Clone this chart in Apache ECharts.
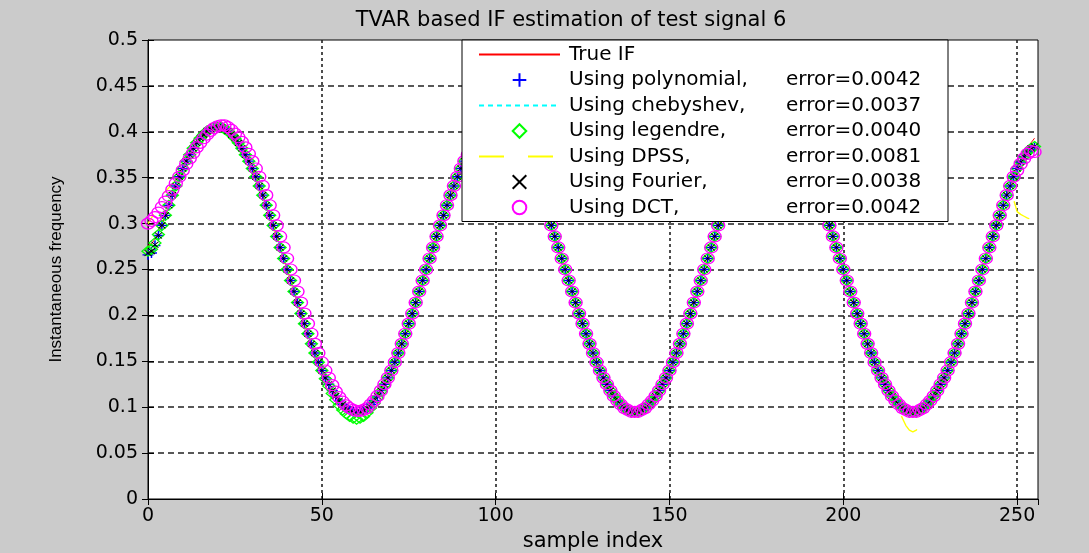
<!DOCTYPE html>
<html><head><meta charset="utf-8">
<script src="https://cdn.jsdelivr.net/npm/echarts@6/dist/echarts.min.js"></script>
<style>html,body{margin:0;padding:0;background:#cbcbcb}#c{width:1089px;height:553px}</style>
</head><body><div id="c"></div><script>
const chartTitle = 'TVAR based IF estimation of test signal 6';
const xAxisName = 'sample index';
const yAxisName = 'Instantaneous frequency';
const seriesLabels = ['True IF', 'Using polynomial,', 'Using chebyshev,', 'Using legendre,', 'Using DPSS,', 'Using Fourier,', 'Using DCT,'];
const seriesErrors = ['', 'error=0.0042', 'error=0.0037', 'error=0.0040', 'error=0.0081', 'error=0.0038', 'error=0.0042'];

const trueIF = [
0.276,0.278,0.283,0.290,0.298,0.309,0.320,0.331,0.341,0.351,
0.360,0.368,0.375,0.382,0.388,0.393,0.397,0.401,0.403,0.405,
0.405,0.405,0.403,0.401,0.397,0.393,0.388,0.382,0.375,0.368,
0.360,0.351,0.341,0.331,0.320,0.309,0.298,0.286,0.274,0.262,
0.250,0.238,0.226,0.214,0.202,0.191,0.180,0.169,0.159,0.149,
0.140,0.132,0.125,0.118,0.112,0.107,0.103,0.099,0.097,0.095,
0.095,0.095,0.097,0.099,0.103,0.107,0.112,0.118,0.125,0.132,
0.140,0.149,0.159,0.169,0.180,0.191,0.202,0.214,0.226,0.238,
0.250,0.262,0.274,0.286,0.298,0.309,0.320,0.331,0.341,0.351,
0.360,0.368,0.375,0.382,0.388,0.393,0.397,0.401,0.403,0.405,
0.405,0.405,0.403,0.401,0.397,0.393,0.388,0.382,0.375,0.368,
0.360,0.351,0.341,0.331,0.320,0.309,0.298,0.286,0.274,0.262,
0.250,0.238,0.226,0.214,0.202,0.191,0.180,0.169,0.159,0.149,
0.140,0.132,0.125,0.118,0.112,0.107,0.103,0.099,0.097,0.095,
0.095,0.095,0.097,0.099,0.103,0.107,0.112,0.118,0.125,0.132,
0.140,0.149,0.159,0.169,0.180,0.191,0.202,0.214,0.226,0.238,
0.250,0.262,0.274,0.286,0.298,0.309,0.320,0.331,0.341,0.351,
0.360,0.368,0.375,0.382,0.388,0.393,0.397,0.401,0.403,0.405,
0.405,0.405,0.403,0.401,0.397,0.393,0.388,0.382,0.375,0.368,
0.360,0.351,0.341,0.331,0.320,0.309,0.298,0.286,0.274,0.262,
0.250,0.238,0.226,0.214,0.202,0.191,0.180,0.169,0.159,0.149,
0.140,0.132,0.125,0.118,0.112,0.107,0.103,0.099,0.097,0.095,
0.095,0.095,0.097,0.099,0.103,0.107,0.112,0.118,0.125,0.132,
0.140,0.149,0.159,0.169,0.180,0.191,0.202,0.214,0.226,0.238,
0.250,0.262,0.274,0.286,0.298,0.309,0.320,0.331,0.341,0.351,
0.360,0.368,0.375,0.382,0.388,0.393];

const polynomialEst = [
0.266,0.268,0.276,0.287,0.298,0.309,0.320,0.331,0.341,0.351,
0.360,0.368,0.375,0.382,0.388,0.393,0.397,0.401,0.403,0.405,
0.405,0.405,0.403,0.401,0.397,0.393,0.388,0.382,0.375,0.368,
0.360,0.351,0.341,0.331,0.320,0.309,0.298,0.286,0.274,0.262,
0.250,0.238,0.226,0.214,0.202,0.191,0.180,0.169,0.159,0.149,
0.140,0.132,0.125,0.118,0.112,0.107,0.103,0.099,0.097,0.095,
0.095,0.095,0.097,0.099,0.103,0.107,0.112,0.118,0.125,0.132,
0.140,0.149,0.159,0.169,0.180,0.191,0.202,0.214,0.226,0.238,
0.250,0.262,0.274,0.286,0.298,0.309,0.320,0.331,0.341,0.351,
0.360,0.368,0.375,0.382,0.388,0.393,0.397,0.401,0.403,0.405,
0.405,0.405,0.403,0.401,0.397,0.393,0.388,0.382,0.375,0.368,
0.360,0.351,0.341,0.331,0.320,0.309,0.298,0.286,0.274,0.262,
0.250,0.238,0.226,0.214,0.202,0.191,0.180,0.169,0.159,0.149,
0.140,0.132,0.125,0.118,0.112,0.107,0.103,0.099,0.097,0.095,
0.095,0.095,0.097,0.099,0.103,0.107,0.112,0.118,0.125,0.132,
0.140,0.149,0.159,0.169,0.180,0.191,0.202,0.214,0.226,0.238,
0.250,0.262,0.274,0.286,0.298,0.309,0.320,0.331,0.341,0.351,
0.360,0.368,0.375,0.382,0.388,0.393,0.397,0.401,0.403,0.405,
0.405,0.405,0.403,0.401,0.397,0.393,0.388,0.382,0.375,0.368,
0.360,0.351,0.341,0.331,0.320,0.309,0.298,0.286,0.274,0.262,
0.250,0.238,0.226,0.214,0.202,0.191,0.180,0.169,0.159,0.149,
0.140,0.132,0.125,0.118,0.112,0.107,0.103,0.099,0.097,0.095,
0.095,0.095,0.097,0.099,0.103,0.107,0.112,0.118,0.125,0.132,
0.140,0.149,0.159,0.169,0.180,0.191,0.202,0.214,0.226,0.238,
0.250,0.262,0.274,0.286,0.298,0.309,0.320,0.331,0.341,0.351,
0.360,0.367,0.373,0.378,0.381,0.383];

const chebyshevEst = [
0.272,0.274,0.280,0.289,0.299,0.309,0.320,0.331,0.341,0.351,
0.360,0.368,0.375,0.382,0.388,0.393,0.397,0.401,0.403,0.405,
0.405,0.405,0.403,0.401,0.397,0.393,0.388,0.382,0.375,0.368,
0.360,0.351,0.341,0.331,0.320,0.309,0.298,0.286,0.274,0.262,
0.250,0.238,0.226,0.214,0.202,0.191,0.180,0.169,0.159,0.149,
0.140,0.132,0.125,0.118,0.112,0.107,0.103,0.099,0.097,0.095,
0.095,0.095,0.097,0.099,0.103,0.107,0.112,0.118,0.125,0.132,
0.140,0.149,0.159,0.169,0.180,0.191,0.202,0.214,0.226,0.238,
0.250,0.262,0.274,0.286,0.298,0.309,0.320,0.331,0.341,0.351,
0.360,0.368,0.375,0.382,0.388,0.393,0.397,0.401,0.403,0.405,
0.405,0.405,0.403,0.401,0.397,0.393,0.388,0.382,0.375,0.368,
0.360,0.351,0.341,0.331,0.320,0.309,0.298,0.286,0.274,0.262,
0.250,0.238,0.226,0.214,0.202,0.191,0.180,0.169,0.159,0.149,
0.140,0.132,0.125,0.118,0.112,0.107,0.103,0.099,0.097,0.095,
0.095,0.095,0.097,0.099,0.103,0.107,0.112,0.118,0.125,0.132,
0.140,0.149,0.159,0.169,0.180,0.191,0.202,0.214,0.226,0.238,
0.250,0.262,0.274,0.286,0.298,0.309,0.320,0.331,0.341,0.351,
0.360,0.368,0.375,0.382,0.388,0.393,0.397,0.401,0.403,0.405,
0.405,0.405,0.403,0.401,0.397,0.393,0.388,0.382,0.375,0.368,
0.360,0.351,0.341,0.331,0.320,0.309,0.298,0.286,0.274,0.262,
0.250,0.238,0.226,0.214,0.202,0.191,0.180,0.169,0.159,0.149,
0.140,0.132,0.125,0.118,0.112,0.107,0.103,0.099,0.097,0.095,
0.095,0.095,0.097,0.099,0.103,0.107,0.112,0.118,0.125,0.132,
0.140,0.149,0.159,0.169,0.180,0.191,0.202,0.214,0.226,0.238,
0.250,0.262,0.274,0.286,0.298,0.309,0.320,0.331,0.341,0.351,
0.360,0.368,0.374,0.379,0.383,0.385];

const legendreEst = [
0.270,0.272,0.279,0.288,0.298,0.309,0.320,0.331,0.341,0.351,
0.360,0.368,0.375,0.382,0.388,0.393,0.397,0.401,0.403,0.405,
0.405,0.405,0.403,0.401,0.397,0.393,0.388,0.382,0.375,0.368,
0.360,0.351,0.341,0.331,0.320,0.309,0.298,0.286,0.274,0.262,
0.250,0.238,0.226,0.214,0.202,0.191,0.180,0.169,0.159,0.149,
0.140,0.131,0.123,0.115,0.108,0.102,0.097,0.093,0.090,0.088,
0.087,0.088,0.090,0.094,0.099,0.104,0.110,0.117,0.124,0.132,
0.140,0.149,0.159,0.169,0.180,0.191,0.202,0.214,0.226,0.238,
0.250,0.262,0.274,0.286,0.298,0.309,0.320,0.331,0.341,0.351,
0.360,0.368,0.375,0.382,0.388,0.393,0.397,0.401,0.403,0.405,
0.405,0.405,0.403,0.401,0.397,0.393,0.388,0.382,0.375,0.368,
0.360,0.351,0.341,0.331,0.320,0.309,0.298,0.286,0.274,0.262,
0.250,0.238,0.226,0.214,0.202,0.191,0.180,0.169,0.159,0.149,
0.140,0.132,0.125,0.118,0.112,0.107,0.103,0.099,0.097,0.095,
0.095,0.095,0.097,0.099,0.103,0.107,0.112,0.118,0.125,0.132,
0.140,0.149,0.159,0.169,0.180,0.191,0.202,0.214,0.226,0.238,
0.250,0.262,0.274,0.286,0.298,0.309,0.320,0.331,0.341,0.351,
0.360,0.368,0.375,0.382,0.388,0.393,0.397,0.401,0.403,0.405,
0.405,0.405,0.403,0.401,0.397,0.393,0.388,0.382,0.375,0.368,
0.360,0.351,0.341,0.331,0.320,0.309,0.298,0.286,0.274,0.262,
0.250,0.238,0.226,0.214,0.202,0.191,0.180,0.169,0.159,0.149,
0.140,0.132,0.125,0.118,0.112,0.107,0.103,0.099,0.097,0.095,
0.095,0.095,0.097,0.099,0.103,0.107,0.112,0.118,0.125,0.132,
0.140,0.149,0.159,0.169,0.180,0.191,0.202,0.214,0.226,0.238,
0.250,0.262,0.274,0.286,0.298,0.309,0.320,0.331,0.341,0.351,
0.360,0.367,0.373,0.378,0.382,0.384];

const dpssEst = [
0.300,0.306,0.314,0.322,0.330,0.335,0.339,0.343,0.347,0.353,
0.360,0.368,0.375,0.382,0.388,0.393,0.397,0.401,0.403,0.405,
0.405,0.405,0.403,0.401,0.397,0.393,0.388,0.382,0.375,0.368,
0.360,0.351,0.341,0.331,0.320,0.309,0.298,0.286,0.274,0.262,
0.250,0.238,0.226,0.214,0.202,0.191,0.180,0.169,0.159,0.149,
0.140,0.132,0.125,0.118,0.112,0.107,0.103,0.099,0.097,0.095,
0.095,0.095,0.097,0.099,0.103,0.107,0.112,0.118,0.125,0.132,
0.140,0.149,0.159,0.169,0.180,0.191,0.202,0.214,0.226,0.238,
0.250,0.262,0.274,0.286,0.298,0.309,0.320,0.331,0.341,0.351,
0.360,0.368,0.375,0.382,0.388,0.393,0.397,0.401,0.403,0.405,
0.405,0.405,0.403,0.401,0.397,0.393,0.388,0.382,0.375,0.368,
0.360,0.351,0.341,0.331,0.320,0.309,0.298,0.286,0.274,0.262,
0.250,0.238,0.226,0.214,0.202,0.191,0.180,0.169,0.159,0.149,
0.140,0.132,0.125,0.118,0.112,0.107,0.103,0.099,0.097,0.095,
0.095,0.095,0.097,0.099,0.103,0.107,0.112,0.118,0.125,0.132,
0.140,0.149,0.159,0.169,0.180,0.191,0.202,0.214,0.226,0.238,
0.250,0.262,0.274,0.286,0.298,0.309,0.320,0.331,0.341,0.351,
0.360,0.368,0.375,0.382,0.388,0.393,0.397,0.401,0.403,0.405,
0.405,0.405,0.403,0.401,0.397,0.393,0.388,0.382,0.375,0.368,
0.360,0.351,0.341,0.331,0.320,0.309,0.298,0.286,0.274,0.262,
0.250,0.238,0.226,0.214,0.202,0.191,0.180,0.169,0.159,0.149,
0.140,0.132,0.125,0.118,0.110,0.104,0.096,0.088,0.080,0.075,
0.073,0.075,0.080,0.086,0.091,0.103,0.110,0.118,0.125,0.132,
0.140,0.149,0.159,0.169,0.180,0.191,0.202,0.214,0.226,0.238,
0.250,0.262,0.274,0.286,0.298,0.309,0.320,0.331,0.336,0.326,
0.313,0.310,0.308,0.306,0.305,0.303];

const fourierEst = [
0.268,0.270,0.277,0.287,0.298,0.309,0.320,0.331,0.341,0.351,
0.360,0.368,0.375,0.382,0.388,0.393,0.397,0.401,0.403,0.405,
0.405,0.405,0.403,0.401,0.397,0.393,0.388,0.382,0.375,0.368,
0.360,0.351,0.341,0.331,0.320,0.309,0.298,0.286,0.274,0.262,
0.250,0.238,0.226,0.214,0.202,0.191,0.180,0.169,0.159,0.149,
0.140,0.132,0.125,0.118,0.112,0.107,0.103,0.099,0.097,0.095,
0.095,0.095,0.097,0.099,0.103,0.107,0.112,0.118,0.125,0.132,
0.140,0.149,0.159,0.169,0.180,0.191,0.202,0.214,0.226,0.238,
0.250,0.262,0.274,0.286,0.298,0.309,0.320,0.331,0.341,0.351,
0.360,0.368,0.375,0.382,0.388,0.393,0.397,0.401,0.403,0.405,
0.405,0.405,0.403,0.401,0.397,0.393,0.388,0.382,0.375,0.368,
0.360,0.351,0.341,0.331,0.320,0.309,0.298,0.286,0.274,0.262,
0.250,0.238,0.226,0.214,0.202,0.191,0.180,0.169,0.159,0.149,
0.140,0.132,0.125,0.118,0.112,0.107,0.103,0.099,0.097,0.095,
0.095,0.095,0.097,0.099,0.103,0.107,0.112,0.118,0.125,0.132,
0.140,0.149,0.159,0.169,0.180,0.191,0.202,0.214,0.226,0.238,
0.250,0.262,0.274,0.286,0.298,0.309,0.320,0.331,0.341,0.351,
0.360,0.368,0.375,0.382,0.388,0.393,0.397,0.401,0.403,0.405,
0.405,0.405,0.403,0.401,0.397,0.393,0.388,0.382,0.375,0.368,
0.360,0.351,0.341,0.331,0.320,0.309,0.298,0.286,0.274,0.262,
0.250,0.238,0.226,0.214,0.202,0.191,0.180,0.169,0.159,0.149,
0.140,0.132,0.125,0.118,0.112,0.107,0.103,0.099,0.097,0.095,
0.095,0.095,0.097,0.099,0.103,0.107,0.112,0.118,0.125,0.132,
0.140,0.149,0.159,0.169,0.180,0.191,0.202,0.214,0.226,0.238,
0.250,0.262,0.274,0.286,0.298,0.309,0.320,0.331,0.341,0.351,
0.360,0.367,0.373,0.378,0.382,0.384];

const dctEst = [
0.300,0.303,0.307,0.312,0.318,0.324,0.330,0.337,0.344,0.351,
0.358,0.365,0.371,0.377,0.383,0.388,0.393,0.397,0.401,0.404,
0.406,0.407,0.407,0.405,0.402,0.398,0.394,0.389,0.383,0.376,
0.368,0.360,0.351,0.341,0.331,0.320,0.309,0.298,0.286,0.274,
0.262,0.250,0.238,0.226,0.214,0.202,0.191,0.180,0.169,0.159,
0.149,0.140,0.132,0.124,0.117,0.111,0.106,0.102,0.099,0.097,
0.096,0.096,0.097,0.099,0.103,0.107,0.112,0.118,0.125,0.132,
0.140,0.149,0.159,0.169,0.180,0.191,0.202,0.214,0.226,0.238,
0.250,0.262,0.274,0.286,0.298,0.309,0.320,0.331,0.341,0.351,
0.360,0.368,0.375,0.382,0.388,0.393,0.397,0.401,0.403,0.405,
0.405,0.405,0.403,0.401,0.397,0.393,0.388,0.382,0.375,0.368,
0.360,0.351,0.341,0.331,0.320,0.309,0.298,0.286,0.274,0.262,
0.250,0.238,0.226,0.214,0.202,0.191,0.180,0.169,0.159,0.149,
0.140,0.132,0.125,0.118,0.112,0.107,0.103,0.099,0.097,0.095,
0.095,0.095,0.097,0.099,0.103,0.107,0.112,0.118,0.125,0.132,
0.140,0.149,0.159,0.169,0.180,0.191,0.202,0.214,0.226,0.238,
0.250,0.262,0.274,0.286,0.298,0.309,0.320,0.331,0.341,0.351,
0.360,0.368,0.375,0.382,0.388,0.393,0.397,0.401,0.403,0.405,
0.405,0.405,0.403,0.401,0.397,0.393,0.388,0.382,0.375,0.368,
0.360,0.351,0.341,0.331,0.320,0.309,0.298,0.286,0.274,0.262,
0.250,0.238,0.226,0.214,0.202,0.191,0.180,0.169,0.159,0.149,
0.140,0.132,0.125,0.118,0.112,0.107,0.103,0.099,0.097,0.095,
0.095,0.095,0.097,0.099,0.103,0.107,0.112,0.118,0.125,0.132,
0.140,0.149,0.159,0.169,0.180,0.191,0.202,0.214,0.226,0.238,
0.250,0.262,0.274,0.286,0.298,0.309,0.320,0.331,0.341,0.351,
0.358,0.365,0.371,0.376,0.379,0.378];

const FONT = 'DejaVu Sans';
const fullName = i => seriesErrors[i] ? seriesLabels[i] + ' ' + seriesErrors[i] : seriesLabels[i];
const pts = arr => arr.map((v, i) => [i, v]);

const PLUS = 'path://M5,0L5,10M0,5L10,5';
const CROSS = 'path://M0,0L10,10M0,10L10,0';
const RING = 'path://M0,5A5,5,0,1,1,10,5A5,5,0,1,1,0,5Z';

const common = {type: 'line', showSymbol: true, showAllSymbol: true, silent: true,
  emphasis: {disabled: true}, animation: false, clip: true};

const series = [
  Object.assign({}, common, {name: fullName(0), data: pts(trueIF), symbol: 'none',
    lineStyle: {color: '#ff0000', width: 1}, itemStyle: {color: '#ff0000'}}),
  Object.assign({}, common, {name: fullName(1), data: pts(polynomialEst), symbol: PLUS, symbolSize: [11, 10],
    lineStyle: {color: '#0000ff', opacity: 0}, itemStyle: {color: 'none', borderColor: '#0000ff', borderWidth: 1.4}}),
  Object.assign({}, common, {name: fullName(2), data: pts(chebyshevEst), symbol: 'none',
    lineStyle: {color: '#00ffff', width: 1, type: [5, 4]}, itemStyle: {color: '#00ffff'}}),
  Object.assign({}, common, {name: fullName(3), data: pts(legendreEst), symbol: 'diamond', symbolSize: [12, 10],
    lineStyle: {color: '#00ff00', opacity: 0}, itemStyle: {color: 'none', borderColor: '#00ff00', borderWidth: 1.3}}),
  Object.assign({}, common, {name: fullName(4), data: pts(dpssEst), symbol: 'none',
    lineStyle: {color: '#ffff00', width: 1.4, type: [25, 24], dashOffset: 14}, itemStyle: {color: '#ffff00'}}),
  Object.assign({}, common, {name: fullName(5), data: pts(fourierEst), symbol: CROSS, symbolSize: [7, 6],
    lineStyle: {color: '#000000', opacity: 0}, itemStyle: {color: 'none', borderColor: '#000000', borderWidth: 1}}),
  Object.assign({}, common, {name: fullName(6), data: pts(dctEst), symbol: RING, symbolSize: [13, 11],
    lineStyle: {color: '#ff00ff', opacity: 0}, itemStyle: {color: 'none', borderColor: '#ff00ff', borderWidth: 1.3}})
];

const lineOnly = [true, false, true, false, true, false, false];
const legendData = seriesLabels.map((s, i) => lineOnly[i]
  ? {name: fullName(i), itemStyle: {opacity: 0}, lineStyle: {dashOffset: 0}}
  : {name: fullName(i), lineStyle: {opacity: 0}});

const axisLabelStyle = {fontFamily: FONT, fontSize: 19, color: '#000'};
const tickStyle = {show: true, inside: true, length: 6, lineStyle: {color: '#000', width: 1}};
const axisLineStyle = {show: true, lineStyle: {color: '#000', width: 1}};

const option = {
  backgroundColor: '#cbcbcb',
  animation: false,
  title: {text: chartTitle, left: 566, top: 5, textAlign: 'center',
    textStyle: {fontFamily: FONT, fontSize: 21, fontWeight: 'normal', color: '#000'}},
  grid: {left: 148, top: 40, right: 51, bottom: 54, show: true, backgroundColor: '#ffffff',
    borderColor: '#000', borderWidth: 1, containLabel: false, outerBoundsMode: 'none'},
  legend: {
    orient: 'vertical', left: 462, top: 40, itemWidth: 81, itemHeight: 17, itemGap: 5.5,
    padding: [4.5, 12, 4, 16], backgroundColor: '#ffffff', borderColor: '#000', borderWidth: 1,
    selectedMode: false, data: legendData,
    formatter: function (name) {
      const i = seriesLabels.findIndex((s, k) => fullName(k) === name);
      return seriesErrors[i] ? '{a|' + seriesLabels[i] + '}{b|' + seriesErrors[i] + '}' : '{a|' + seriesLabels[i] + '}';
    },
    textStyle: {fontFamily: FONT, fontSize: 20, color: '#000', lineHeight: 20,
      rich: {a: {fontFamily: FONT, fontSize: 20, color: '#000', width: 217, padding: [0, 0, 0, 4], lineHeight: 20},
             b: {fontFamily: FONT, fontSize: 20, color: '#000', width: 150, lineHeight: 20}}}
  },
  xAxis: [
    {type: 'value', min: 0, max: 256, interval: 50, position: 'bottom',
      name: xAxisName, nameLocation: 'middle', nameGap: 28,
      nameTextStyle: {fontFamily: FONT, fontSize: 21, color: '#000'},
      axisLine: axisLineStyle, axisTick: tickStyle,
      axisLabel: Object.assign({margin: 8, showMaxLabel: false}, axisLabelStyle),
      splitLine: {show: true, showMinLine: false, showMaxLine: false, lineStyle: {color: '#222', width: 1.6, type: [3, 3]}}},
    {type: 'value', min: 0, max: 256, interval: 50, position: 'top',
      axisLine: axisLineStyle, axisTick: tickStyle, axisLabel: {show: false}, splitLine: {show: false}}
  ],
  yAxis: [
    {type: 'value', min: 0, max: 0.5, interval: 0.05, position: 'left',
      name: yAxisName, nameLocation: 'middle', nameGap: 83, nameRotate: 90,
      nameTextStyle: {fontFamily: 'Liberation Sans', fontSize: 17, color: '#000'},
      axisLine: axisLineStyle, axisTick: tickStyle,
      axisLabel: Object.assign({margin: 10}, axisLabelStyle),
      splitLine: {show: true, showMinLine: false, showMaxLine: false, lineStyle: {color: '#222', width: 1.6, type: [6, 4]}}},
    {type: 'value', min: 0, max: 0.5, interval: 0.05, position: 'right',
      axisLine: axisLineStyle, axisTick: tickStyle, axisLabel: {show: false}, splitLine: {show: false}}
  ],
  series: series
};

const chart = echarts.init(document.getElementById('c'), null, {renderer: 'canvas'});
chart.setOption(option);
</script></body></html>
